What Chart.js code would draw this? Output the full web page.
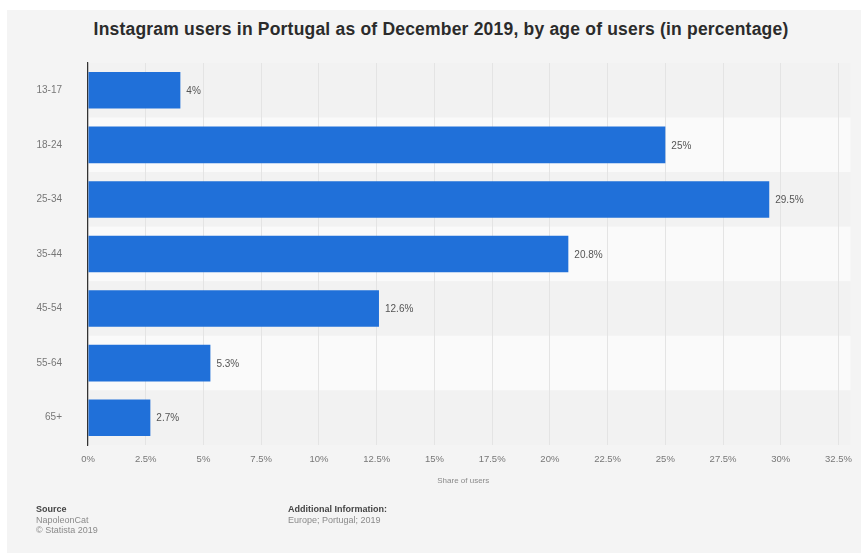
<!DOCTYPE html>
<html>
<head>
<meta charset="utf-8">
<script src="https://cdn.jsdelivr.net/npm/chart.js@4.4.1/dist/chart.umd.min.js"></script>
<style>
  html, body { margin: 0; padding: 0; background: #ffffff; }
  #wrap { position: relative; width: 861px; height: 556px; overflow: hidden; font-family: "Liberation Sans", Arial, sans-serif; }
  #bg { position: absolute; left: 7px; top: 10px; width: 854px; height: 543px; background: #f4f4f4; }
  #chartBox { position: absolute; left: 0; top: 0; width: 861px; height: 556px; }
  #title { position: absolute; left: 0; top: 19px; width: 882px; text-align: center; font-weight: bold; font-size: 17.5px; color: #2b2b2b; letter-spacing: 0.2px; }
  .foot { position: absolute; font-size: 9px; color: #8a8a8a; line-height: 10.5px; }
  .foot b { color: #444; font-weight: bold; }
</style>
</head>
<body>
<div id="wrap">
  <div id="bg"></div>
  <div id="title">Instagram users in Portugal as of December 2019, by age of users (in percentage)</div>
  <div id="chartBox"><canvas id="c" width="861" height="556"></canvas></div>
  <div class="foot" style="left:36px; top:504px;"><b>Source</b><br>NapoleonCat<br>© Statista 2019</div>
  <div class="foot" style="left:288px; top:504px;"><b>Additional Information:</b><br>Europe; Portugal; 2019</div>
</div>
<script>
const categories = ["13-17", "18-24", "25-34", "35-44", "45-54", "55-64", "65+"];
const shareOfUsers = [4, 25, 29.5, 20.8, 12.6, 5.3, 2.7];
const valueLabels = ["4%", "25%", "29.5%", "20.8%", "12.6%", "5.3%", "2.7%"];
const xTickMax = 32.5;
const xTickStep = 2.5;

const bandPlugin = {
  id: 'bands',
  beforeDraw(chart) {
    const { ctx, chartArea, scales } = chart;
    const y = scales.y;
    const n = categories.length;
    const h = (chartArea.bottom - chartArea.top) / n;
    ctx.save();
    for (let i = 0; i < n; i++) {
      const cy = y.getPixelForValue(i);
      ctx.fillStyle = (i % 2 === 0) ? '#f2f2f2' : '#fafafa';
      ctx.fillRect(chartArea.left, cy - h / 2, chartArea.right - chartArea.left + 12, h);
    }
    ctx.restore();
  }
};

const labelPlugin = {
  id: 'valueLabels',
  afterDatasetsDraw(chart) {
    const { ctx } = chart;
    const meta = chart.getDatasetMeta(0);
    ctx.save();
    ctx.font = '10px "Liberation Sans", Arial, sans-serif';
    ctx.fillStyle = '#555555';
    ctx.textAlign = 'left';
    ctx.textBaseline = 'middle';
    meta.data.forEach((bar, i) => {
      ctx.fillText(valueLabels[i], bar.x + 6, bar.y + 1);
    });
    ctx.restore();
  }
};

new Chart(document.getElementById('c'), {
  type: 'bar',
  data: {
    labels: categories,
    datasets: [{
      data: shareOfUsers,
      backgroundColor: '#2070d9',
      borderWidth: 0,
      categoryPercentage: 1,
      barPercentage: 0.67
    }]
  },
  options: {
    indexAxis: 'y',
    responsive: false,
    animation: false,
    devicePixelRatio: 1,
    layout: { padding: { top: 63, right: 21, bottom: 66, left: 0 } },
    plugins: { legend: { display: false }, tooltip: { enabled: false } },
    scales: {
      x: {
        min: 0,
        max: xTickMax,
        afterFit(scale) { scale.height = 45; },
        ticks: {
          stepSize: xTickStep,
          padding: 9,
          maxRotation: 0,
          autoSkip: false,
          color: '#777777',
          font: { size: 9.5, family: '"Liberation Sans", Arial, sans-serif' },
          callback: (v) => v + '%'
        },
        grid: { color: '#e4e4e4', lineWidth: 1, drawTicks: false },
        border: { display: false },
        title: {
          display: true,
          text: 'Share of users',
          color: '#8a8a8a',
          font: { size: 8, family: '"Liberation Sans", Arial, sans-serif' },
          padding: { top: 3 }
        }
      },
      y: {
        afterFit(scale) { scale.width = 88; },
        ticks: {
          padding: 26,
          color: '#777777',
          font: { size: 10, family: '"Liberation Sans", Arial, sans-serif' }
        },
        grid: { display: false, drawTicks: false },
        border: { display: true, color: '#333333', width: 1.2 }
      }
    }
  },
  plugins: [bandPlugin, labelPlugin]
});
</script>
</body>
</html>
